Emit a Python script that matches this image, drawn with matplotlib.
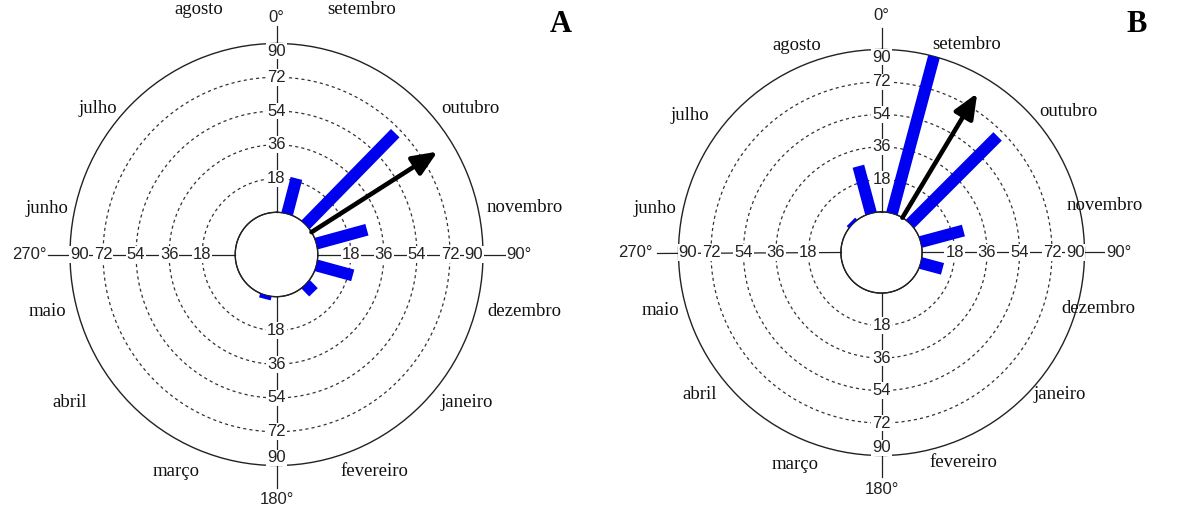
import numpy as np
import matplotlib.pyplot as plt

MONTHS = ["setembro", "outubro", "novembro", "dezembro", "janeiro", "fevereiro",
          "março", "abril", "maio", "junho", "julho", "agosto"]
MONTH_ANGLES = [15, 45, 75, 105, 135, 165, 195, 225, 255, 285, 315, 345]

# frequencies per month (radial scale 0-90)
counts_a = [19.5, 69, 28.5, 20.5, 6, 0, 2, 0, 0, 0, 0, 0]
counts_b = [90, 68.5, 24.5, 12.5, 0, 0, 0, 0, 0, 0, 1.5, 27]
# mean vector: angle (deg), length
mean_a = (58, 81)
mean_b = (31, 80.5)

RINGS = [18, 36, 54, 72]
RMAX = 90
ORIGIN = -22.5

# label placement (angle deg, radius in data units)
month_pos_a = [(19.5, 116), (53.6, 109), (79.6, 115), (102.6, 116), (127.3, 108), (155.3, 105),
               (205.4, 105.6), (235, 115), (256.4, 106), (281.2, 105), (308.7, 102), (342, 115)]
month_pos_b = [(22.4, 102), (53, 107), (78, 104), (104.4, 101.4), (128.6, 104), (158.8, 102.6),
               (202.1, 104.6), (231.9, 105.4), (255.4, 104.3), (281.1, 105.4), (305.7, 108), (337.8, 101.6)]
deg_labels = ["0°", "90°", "180°", "270°"]
deg_pos_a = [(0, 104), (90, 109.7), (180, 108), (270, 112.4)]
deg_pos_b = [(0, 109), (90, 109), (180, 109), (270, 114)]

SERIF = "Liberation Serif"
SANS = "Liberation Sans"
BLUE = "#0000f0"


def draw_panel(ax, counts, mean, month_pos, deg_pos):
    ax.set_theta_zero_location("N")
    ax.set_theta_direction(-1)
    ax.set_rorigin(ORIGIN)
    ax.set_ylim(0, RMAX)
    ax.set_xticks([])
    ax.set_yticks([])
    ax.grid(False)
    ax.spines["polar"].set_linewidth(1.0)
    ax.spines["polar"].set_color("#222222")
    if "inner" in ax.spines:
        ax.spines["inner"].set_visible(False)

    th = np.linspace(0, 2 * np.pi, 400)
    for r in RINGS:
        ax.plot(th, np.full_like(th, r), color="#333333", lw=0.9, ls=(0, (2.5, 2.5)), zorder=1)
    ax.plot(th, np.zeros_like(th), color="#222222", lw=1.0, zorder=4, clip_on=False)

    # axis cross
    for a in [0, 90, 180, 270]:
        ax.plot([np.deg2rad(a)] * 2, [0, RMAX + 12], color="#222222", lw=0.9, zorder=2, clip_on=False)

    # bars
    for a, v in zip(MONTH_ANGLES, counts):
        if v > 0:
            ax.plot([np.deg2rad(a)] * 2, [0, v], color=BLUE, lw=8.6, solid_capstyle="butt", zorder=5)

    # mean vector
    ax.annotate("", xy=(np.deg2rad(mean[0]), mean[1]), xytext=(np.deg2rad(mean[0]), 0),
                arrowprops=dict(arrowstyle="-|>,head_length=0.75,head_width=0.32", color="black",
                                lw=3.3, shrinkA=0, shrinkB=0, mutation_scale=20),
                zorder=6, annotation_clip=False)

    box = dict(facecolor="white", edgecolor="none", pad=0.6)
    tk = dict(fontsize=12, family=SANS, color="#222222", bbox=box, zorder=3)
    for r in RINGS:
        for a in [0, 90, 180, 270]:
            ax.text(np.deg2rad(a), r, str(r), ha="center", va="center", **tk)
    ax.text(0, RMAX, "90", ha="center", va="top", **tk)
    ax.text(np.pi, RMAX, "90", ha="center", va="bottom", **tk)
    ax.text(np.pi / 2, RMAX, "90", ha="right", va="center", **tk)
    ax.text(3 * np.pi / 2, RMAX, "90", ha="left", va="center", **tk)

    for lab, (a, r) in zip(deg_labels, deg_pos):
        ax.text(np.deg2rad(a), r, lab, ha="center", va="center", clip_on=False, **tk)
    for lab, (a, r) in zip(MONTHS, month_pos):
        ax.text(np.deg2rad(a), r, lab, ha="center", va="center", fontsize=13.5,
                family=SERIF, color="#111111", clip_on=False)


W, H = 1179, 508
fig = plt.figure(figsize=(W / 100, H / 100), dpi=100)

# panel A (slightly taller than wide in the reference)
cx, cy, rx, ry = 276.5, 254.5, 206.5, 211
ax_a = fig.add_axes([(cx - rx) / W, (H - cy - ry) / H, 2 * rx / W, 2 * ry / H], projection="polar")
ax_a.set_aspect("auto")
draw_panel(ax_a, counts_a, mean_a, month_pos_a, deg_pos_a)

cx, cy, r0 = 881.5, 252.5, 203
ax_b = fig.add_axes([(cx - r0) / W, (H - cy - r0) / H, 2 * r0 / W, 2 * r0 / H], projection="polar")
draw_panel(ax_b, counts_b, mean_b, month_pos_b, deg_pos_b)

fig.text(561 / W, 1 - 24 / H, "A", fontsize=22, fontweight="bold", family=SERIF, ha="center", va="center")
fig.text(1137 / W, 1 - 24 / H, "B", fontsize=22, fontweight="bold", family=SERIF, ha="center", va="center")

fig.savefig("out.png", dpi=100)
